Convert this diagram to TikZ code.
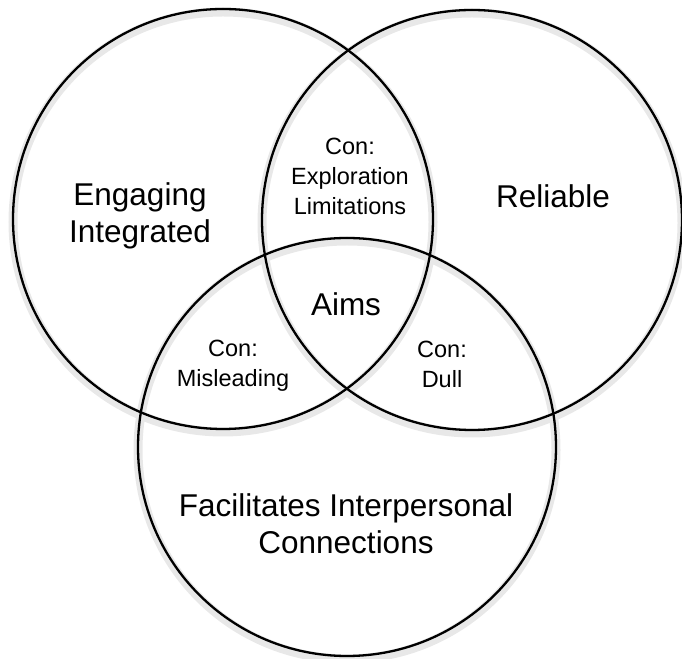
\documentclass[tikz,border=0pt]{standalone}
\usepackage{fontspec}
\setmainfont{Liberation Sans}
\begin{document}
\begin{tikzpicture}[x=1pt,y=1pt,
  ring/.style={circle, draw=black, line width=2.3pt, minimum size=#1, inner sep=0pt},
  halo/.style={circle, draw=black!9, line width=9pt, minimum size=#1, inner sep=0pt},
  bigtext/.style={align=center, font=\fontsize{31.5}{37}\selectfont, inner sep=0pt},
  smalltext/.style={align=center, font=\fontsize{23.5}{30}\selectfont, inner sep=0pt}]
  \useasboundingbox (0,0) rectangle (682,658);
  % soft shadow under the three rings
  \node[halo=420pt] at (223,436) {};
  \node[halo=420pt] at (472,435) {};
  \node[halo=418pt] at (347,208) {};
  % the three rings
  \node[ring=420pt] (left) at (223,439) {};
  \node[ring=420pt] (right) at (472,438) {};
  \node[ring=418pt] (bottom) at (347,211) {};
  % region labels
  \node[bigtext] (engaging) at (140,442) {Engaging\\Integrated};
  \node[bigtext] (reliable) at (553,462) {Reliable};
  \node[bigtext] (aims) at (346,354) {Aims};
  \node[bigtext] (facilitates) at (346,134) {Facilitates Interpersonal\\Connections};
  \node[smalltext] (exploration) at (350,482) {Con:\\Exploration\\Limitations};
  \node[smalltext] (misleading) at (233,292) {Con:\\Misleading};
  \node[smalltext] (dull) at (442,294) {Con:\\Dull};
\end{tikzpicture}
\end{document}
